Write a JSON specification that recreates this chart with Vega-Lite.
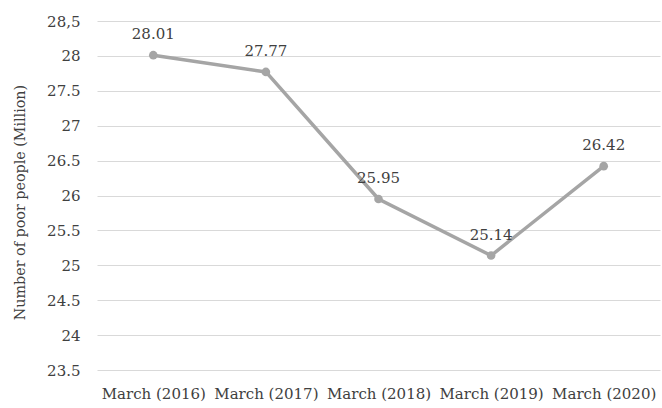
{
  "$schema": "https://vega.github.io/schema/vega-lite/v6.json",
  "width": 563,
  "height": 349,
  "autosize": {"type": "none"},
  "padding": {"left": 97, "top": 21, "right": 2, "bottom": 38},
  "background": "white",
  "config": {
    "view": {"stroke": null},
    "font": "DejaVu Serif"
  },
  "data": {
    "values": [
      {"period": "March (2016)", "poor": 28.01},
      {"period": "March (2017)", "poor": 27.77},
      {"period": "March (2018)", "poor": 25.95},
      {"period": "March (2019)", "poor": 25.14},
      {"period": "March (2020)", "poor": 26.42}
    ]
  },
  "encoding": {
    "x": {
      "field": "period",
      "type": "ordinal",
      "sort": null,
      "scale": {"paddingInner": 0, "paddingOuter": 0},
      "axis": {
        "title": null,
        "labelAngle": 0,
        "domain": false,
        "ticks": false,
        "labelFont": "DejaVu Serif",
        "labelFontSize": 15,
        "labelColor": "#404040",
        "labelPadding": 16
      }
    },
    "y": {
      "field": "poor",
      "type": "quantitative",
      "scale": {"domain": [23.5, 28.5], "nice": false, "zero": false},
      "axis": {
        "title": "Number of poor people (Million)",
        "titleFont": "DejaVu Serif",
        "titleFontSize": 14.3,
        "titleFontWeight": "normal",
        "titleColor": "#404040",
        "titlePadding": 19,
        "titleY": 181,
        "values": [23.5, 24, 24.5, 25, 25.5, 26, 26.5, 27, 27.5, 28, 28.5],
        "labelExpr": "datum.value == 28.5 ? '28,5' : datum.label",
        "format": "~g",
        "domain": false,
        "ticks": false,
        "grid": true,
        "gridColor": "#d9d9d9",
        "gridWidth": 1,
        "labelFont": "DejaVu Serif",
        "labelFontSize": 15,
        "labelColor": "#404040",
        "labelPadding": 17
      }
    }
  },
  "layer": [
    {
      "mark": {"type": "line", "color": "#a5a5a5", "strokeWidth": 3.5}
    },
    {
      "mark": {"type": "point", "filled": true, "color": "#a5a5a5", "size": 75, "opacity": 1}
    },
    {
      "mark": {"type": "text", "dy": -21, "fontSize": 15, "color": "#404040", "font": "DejaVu Serif"},
      "encoding": {"text": {"field": "poor", "type": "quantitative", "format": ".2f"}}
    }
  ]
}
